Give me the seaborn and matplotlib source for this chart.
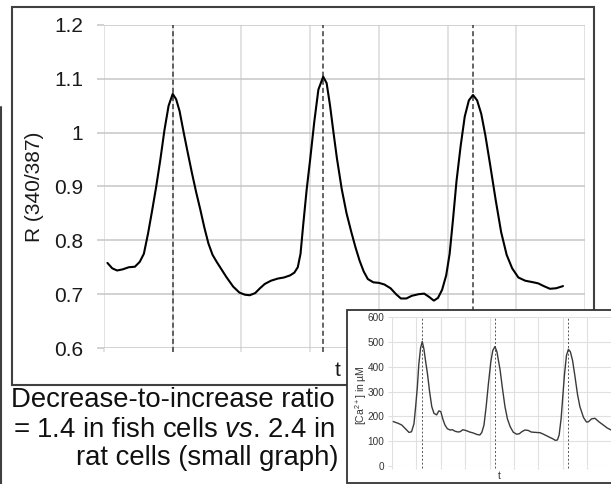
import matplotlib
matplotlib.use("Agg")
import matplotlib.pyplot as plt
import seaborn as sns
from matplotlib.patches import Rectangle
from matplotlib.lines import Line2D

# Fura-2 ratio trace (fish cells), time in arbitrary grid units
main_t = [0.05, 0.12, 0.19, 0.27, 0.36, 0.45, 0.52, 0.58, 0.64, 0.70, 0.76, 0.82,
          0.88, 0.94, 1.00, 1.05, 1.10, 1.16, 1.22, 1.28, 1.34, 1.40, 1.46, 1.52,
          1.58, 1.64, 1.69, 1.78, 1.88, 1.97, 2.05, 2.12, 2.20, 2.27, 2.34, 2.43,
          2.53, 2.62, 2.71, 2.77, 2.82, 2.86, 2.90, 2.95, 3.00, 3.06, 3.12, 3.19,
          3.24, 3.29, 3.34, 3.39, 3.46, 3.53, 3.60, 3.66, 3.72, 3.78, 3.84, 3.92,
          4.00, 4.08, 4.17, 4.25, 4.32, 4.40, 4.48, 4.58, 4.66, 4.73, 4.80, 4.86,
          4.92, 4.98, 5.03, 5.08, 5.13, 5.19, 5.25, 5.31, 5.37, 5.43, 5.49, 5.55,
          5.62, 5.70, 5.78, 5.86, 5.94, 6.03, 6.13, 6.25, 6.32, 6.40, 6.49, 6.58,
          6.68]
main_r = [0.758, 0.748, 0.744, 0.746, 0.750, 0.751, 0.760, 0.775, 0.812, 0.855,
          0.900, 0.950, 1.005, 1.050, 1.072, 1.062, 1.040, 1.000, 0.962, 0.925,
          0.890, 0.858, 0.824, 0.794, 0.773, 0.760, 0.750, 0.732, 0.714, 0.703,
          0.699, 0.698, 0.702, 0.711, 0.719, 0.725, 0.729, 0.731, 0.735, 0.740,
          0.750, 0.775, 0.830, 0.895, 0.950, 1.020, 1.080, 1.104, 1.092, 1.050,
          1.000, 0.952, 0.895, 0.850, 0.815, 0.787, 0.762, 0.742, 0.728, 0.722,
          0.721, 0.718, 0.711, 0.700, 0.692, 0.692, 0.697, 0.700, 0.701, 0.695,
          0.688, 0.693, 0.708, 0.735, 0.775, 0.840, 0.910, 0.975, 1.030, 1.060,
          1.070, 1.060, 1.035, 0.995, 0.940, 0.875, 0.815, 0.773, 0.748, 0.731,
          0.725, 0.722, 0.720, 0.715, 0.710, 0.711, 0.715]
main_peaks = [1.0, 3.19, 5.37]
r_ticks = [0.6, 0.7, 0.8, 0.9, 1.0, 1.1, 1.2]
r_labels = ["0.6", "0.7", "0.8", "0.9", "1", "1.1", "1.2"]

# Calcium concentration trace (rat cells)
ins_t = [0.05, 0.25, 0.40, 0.55, 0.70, 0.80, 0.90, 0.97, 1.04, 1.10, 1.17, 1.24,
         1.31, 1.38, 1.45, 1.54, 1.63, 1.72, 1.83, 1.92, 2.00, 2.08, 2.17, 2.27,
         2.38, 2.48, 2.58, 2.70, 2.79, 2.90, 3.03, 3.18, 3.33, 3.48, 3.60, 3.68,
         3.77, 3.86, 3.95, 4.05, 4.13, 4.22, 4.30, 4.38, 4.43, 4.53, 4.63, 4.73,
         4.84, 4.97, 5.11, 5.22, 5.32, 5.45, 5.59, 5.70, 5.79, 5.93, 6.07, 6.25,
         6.41, 6.58, 6.70, 6.78, 6.85, 6.93, 7.00, 7.07, 7.15, 7.23, 7.31, 7.40,
         7.50, 7.60, 7.70, 7.85, 7.97, 8.05, 8.18, 8.32, 8.48, 8.66, 8.82, 8.98]
ins_ca = [179, 172, 165, 150, 135, 138, 170, 240, 320, 410, 475, 501,
          470, 420, 374, 300, 239, 212, 206, 222, 219, 190, 165, 150,
          145, 146, 140, 137, 138, 146, 143, 137, 133, 127, 125, 135,
          165, 240, 330, 420, 465, 481, 460, 415, 387, 310, 239, 190,
          159, 136, 128, 130, 138, 145, 143, 137, 136, 135, 134, 126,
          118, 110, 103, 105, 125, 190, 280, 370, 445, 470, 460, 425,
          360, 290, 239, 195, 177, 178, 190, 192, 178, 165, 153, 145]
ins_peaks = [1.24, 4.22, 7.23]
ca_ticks = [0, 100, 200, 300, 400, 500, 600]

sns.set_theme(style="white")
plt.rcParams["font.family"] = ["Liberation Sans", "DejaVu Sans"]
plt.rcParams["mathtext.fontset"] = "custom"
plt.rcParams["mathtext.rm"] = "Liberation Sans"
plt.rcParams["mathtext.it"] = "Liberation Sans:italic"

W, H = 611, 484
fig = plt.figure(figsize=(W / 100, H / 100), dpi=100)
fig.patch.set_facecolor("white")


def box(x0, y0, x1, y1):
    """Pixel box (top-left origin) to figure-fraction rect."""
    return [x0 / W, 1 - y1 / H, (x1 - x0) / W, (y1 - y0) / H]


def fx(px):
    return px / W


def fy(py):
    return 1 - py / H


# ---- main ratio panel ----
ax = fig.add_axes(box(104, 25, 585, 348))
ax.set_facecolor("none")
sns.lineplot(x=main_t, y=main_r, ax=ax, color="black", linewidth=1.5, zorder=4)
for t in main_peaks:
    ax.axvline(t, ymin=-0.012, ymax=1, color="#3a3a3a", lw=1.1,
               ls=(0, (3.3, 2)), clip_on=False, zorder=3)
ax.set_xlim(0, 7)
ax.set_ylim(0.6, 1.2)
ax.set_xticks(range(8))
ax.set_xticklabels([])
ax.set_yticks(r_ticks)
ax.set_yticklabels(r_labels)
ax.set_xlabel("")
ax.set_ylabel("")
ax.grid(axis="x", color="#dadada", lw=1.1)
ax.grid(axis="y", color="#c6c6c6", lw=1.1)
for s in ax.spines.values():
    s.set_visible(False)
ax.tick_params(axis="y", left=True, length=5, width=1.1, color="#c6c6c6",
               pad=10, labelsize=15, labelcolor="#1a1a1a")
ax.tick_params(axis="x", bottom=True, length=3, width=1.1, color="#dadada")

fig.text(fx(35), fy(187), "R (340/387)", rotation=90, ha="center", va="center",
         fontsize=15, color="#1a1a1a")
fig.text(fx(338), fy(371), "t", ha="center", va="center", fontsize=15,
         color="#1a1a1a")

# frame around the main panel and the neighbouring panel edge
fig.add_artist(Rectangle((fx(12), fy(385)), (594 - 12) / W, (385 - 7) / H,
                         transform=fig.transFigure, fill=False, ec="#404040",
                         lw=1.5, zorder=1))
fig.add_artist(Line2D([fx(1.2), fx(1.2)], [fy(107), 0], color="#404040", lw=1.5,
                      zorder=1))

# caption
cap_kw = dict(ha="right", va="baseline", fontsize=19.8, color="#111111")
fig.text(fx(335), fy(407), "Decrease-to-increase ratio", **cap_kw)
fig.text(fx(335), fy(437), r"= 1.4 in fish cells $\mathit{vs}$. 2.4 in", **cap_kw)
fig.text(fx(339), fy(465), "rat cells (small graph)", **cap_kw)

# ---- inset calcium panel ----
fig.add_artist(Rectangle((fx(347), fy(483)), (660 - 347) / W, (483 - 310) / H,
                         transform=fig.transFigure, fc="white", ec="#333333",
                         lw=1.3, zorder=5))
ax2 = fig.add_axes(box(392, 317, 392 + 9.6 * 24.4, 466))
ax2.set_zorder(6)
ax2.set_facecolor("none")
sns.lineplot(x=ins_t, y=ins_ca, ax=ax2, color="#3a3a3a", linewidth=1.0, zorder=4)
for t in ins_peaks:
    ax2.axvline(t, ymin=-0.015, ymax=1, color="#555555", lw=0.7,
                ls=(0, (2, 2)), clip_on=False, zorder=3)
ax2.set_xlim(0, 9.6)
ax2.set_ylim(0, 600)
ax2.set_xticks(range(10))
ax2.set_xticklabels([])
ax2.set_yticks(ca_ticks)
ax2.set_xlabel("")
ax2.set_ylabel("")
ax2.grid(color="#e0e0e0", lw=0.8)
for s in ax2.spines.values():
    s.set_visible(False)
ax2.tick_params(axis="y", left=True, length=3, width=0.8, color="#e0e0e0",
                pad=2.5, labelsize=7.2, labelcolor="#333333")
ax2.tick_params(axis="x", bottom=True, length=2, width=0.8, color="#e0e0e0")

fig.text(fx(361), fy(395), r"[Ca$^{2+}$] in µM", rotation=90, ha="center",
         va="center", fontsize=7.5, color="#333333", zorder=7)
fig.text(fx(499), fy(476), "t", ha="center", va="center", fontsize=7.5,
         color="#333333", zorder=7)

fig.savefig("out.png", dpi=100)
